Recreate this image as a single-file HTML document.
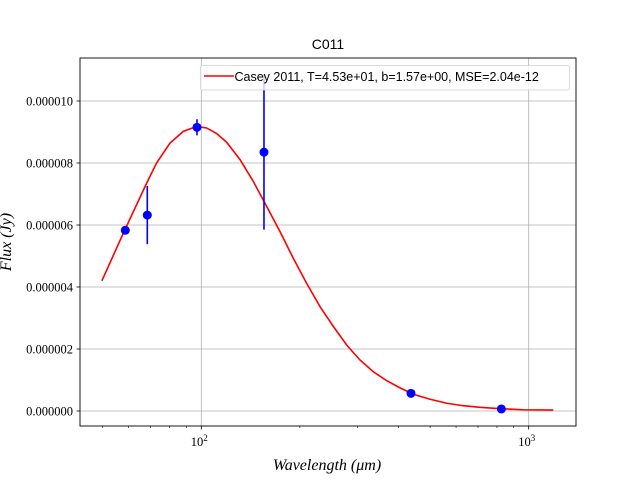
<!DOCTYPE html>
<html><head><meta charset="utf-8"><style>
body{margin:0;background:#fff;width:640px;height:480px;overflow:hidden}
svg text{font-family:"Liberation Serif",serif}
</style></head><body>
<svg id="chart" width="640" height="480" xmlns="http://www.w3.org/2000/svg"></svg>
<script>
const curveWave=[49.7,57.8,68.1,73.0,80.2,88.1,96.8,103.8,111.4,119.5,131.3,144.1,158.3,173.9,190.9,209.7,230.4,253,278,305,335,368,404,444,500,562,631,710,817,963,1189];
const curveFlux=[4.20,5.74,7.35,8.00,8.64,9.02,9.18,9.13,8.95,8.67,8.11,7.41,6.60,5.79,4.93,4.12,3.37,2.73,2.13,1.65,1.27,0.98,0.75,0.54,0.38,0.25,0.17,0.12,0.075,0.04,0.03];
const obsWave=[58.6,68.4,97.0,155.4,437,825];
const obsFlux=[5.83,6.32,9.15,8.35,0.57,0.065];
const obsErr=[0.05,0.94,0.26,2.5,0.1,0.03];
const yTicks=[0,2,4,6,8,10];
const yTickLabels=["0.000000","0.000002","0.000004","0.000006","0.000008","0.000010"];
const xMajor=[100,1000];
const xMinor=[50,60,70,80,90,200,300,400,500,600,700,800,900];

const L=80,R=576,T=58,B=426;
const X=w=>201.3+(Math.log10(w)-2)*327.4;
const Y=f=>411-f*31;
const svg=document.getElementById('chart');
const NS='http://www.w3.org/2000/svg';
function mk(tag,attrs,parent){const e=document.createElementNS(NS,tag);for(const k in attrs)e.setAttribute(k,attrs[k]);(parent||svg).appendChild(e);return e;}

// grid
yTicks.forEach((v,i)=>{
  const g=mk('line',{x1:L,x2:R,y1:Y(v),y2:Y(v),stroke:'#b0b0b0','stroke-width':0.8});
  
  
  mk('line',{x1:L-3.5,x2:L,y1:Y(v),y2:Y(v),stroke:'#000','stroke-width':0.8});
  const t=mk('text',{x:L-7,y:Y(v)+4.5,'text-anchor':'end','font-size':12.5});
  t.textContent=yTickLabels[i];
  
  
});
xMajor.forEach(v=>{
  const g=mk('line',{x1:X(v),x2:X(v),y1:T,y2:B,stroke:'#b0b0b0','stroke-width':0.8});
  
  
  mk('line',{x1:X(v),x2:X(v),y1:B,y2:B+3.5,stroke:'#000','stroke-width':0.8});
  const t=mk('text',{x:X(v)-2,y:B+20,'text-anchor':'middle','font-size':12.5});
  t.textContent='10';
  const s=mk('tspan',{dy:-5,'font-size':9},t);s.textContent=Math.round(Math.log10(v));
  
  
});
xMinor.forEach(v=>{mk('line',{x1:X(v),x2:X(v),y1:B,y2:B+2,stroke:'#000','stroke-width':0.6});});

// curve
const pl=mk('polyline',{points:curveWave.map((w,i)=>X(w)+','+Y(curveFlux[i])).join(' '),fill:'none',stroke:'#ff0000','stroke-width':1.6});



// observations
obsWave.forEach((w,i)=>{
  const e=mk('line',{x1:X(w),x2:X(w),y1:Y(obsFlux[i]+obsErr[i]),y2:Y(obsFlux[i]-obsErr[i]),stroke:'#0000ff','stroke-width':1.6});
  
  
  const c=mk('circle',{cx:X(w),cy:Y(obsFlux[i]),r:4.5,fill:'#0000ff'});
  
  
});

// axes frame
const fr=mk('rect',{x:L,y:T,width:R-L,height:B-T,fill:'none',stroke:'#000','stroke-width':0.9});



// legend
const lg=mk('g',{});


mk('rect',{x:200.5,y:65.5,width:369,height:24.5,rx:2,fill:'#fff','fill-opacity':0.8,stroke:'#d0d0d0','stroke-width':0.8},lg);
mk('line',{x1:204,x2:234,y1:76,y2:76,stroke:'#ff0000','stroke-width':1.6},lg);
const lt=mk('text',{x:234.5,y:81,'font-size':12.5,style:'font-family:"Liberation Sans","DejaVu Sans",sans-serif'},lg);
lt.textContent='Casey 2011, T=4.53e+01, b=1.57e+00, MSE=2.04e-12';

// title and axis labels
const tt=mk('text',{x:328,y:49,'text-anchor':'middle','font-size':14,style:'font-family:"Liberation Sans","DejaVu Sans",sans-serif'});
tt.textContent='C011';


const xl=mk('text',{x:327,y:470,'text-anchor':'middle','font-size':16,'font-style':'italic'});
xl.textContent='Wavelength (μm)';


const yl=mk('text',{x:0,y:0,'text-anchor':'middle','font-size':16,'font-style':'italic',transform:'translate(11,242) rotate(-90)'});
yl.textContent='Flux (Jy)';


</script>
</body></html>
